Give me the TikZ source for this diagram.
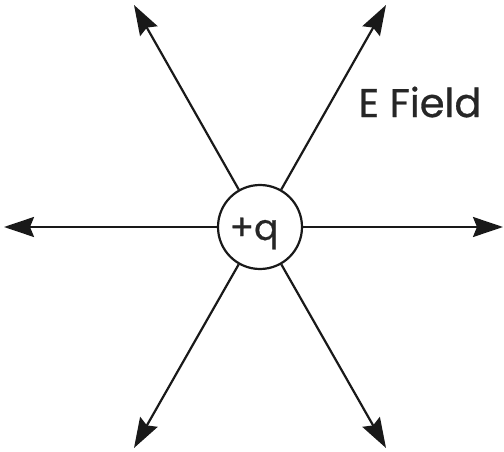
\documentclass[tikz,border=0pt]{standalone}
\usepackage{fontspec}
\setmainfont{Poppins}
\newfontfamily\heavyfont{Poppins}[FakeBold=0.7]
\usetikzlibrary{arrows.meta}
\begin{document}
\begin{tikzpicture}[x=1pt,y=-1pt,
  fieldline/.style={line width=2.2pt,color=black!90,-{Stealth[length=30pt,width=20pt,inset=4pt]}},
  charge/.style={circle,draw=black!90,line width=2.2pt,minimum size=84pt,inner sep=0pt},
  lbl/.style={font=\heavyfont\fontsize{40}{40}\selectfont,text=black!85}]
\useasboundingbox (0,0) rectangle (504,452);
\node[charge] (q) at (260,227) {};
\node[font=\heavyfont\fontsize{36}{36}\selectfont,text=black!85,anchor=base] (qt) at (254,240) {+q};
\coordinate (ul) at (134,5);
\coordinate (ur) at (386,5);
\coordinate (l) at (4,227);
\coordinate (r) at (503,227);
\coordinate (dl) at (134,448);
\coordinate (dr) at (386,448);
\foreach \t in {ul,ur,l,r,dl,dr} \draw[fieldline] (q) -- (\t);
\node[lbl] (ef) at (420,102) {E Field};
\end{tikzpicture}
\end{document}
